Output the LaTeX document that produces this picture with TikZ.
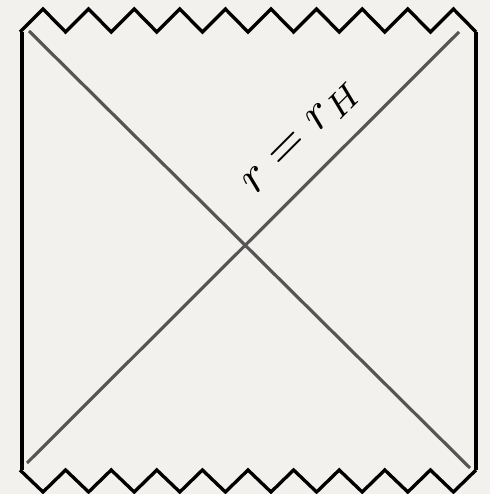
\documentclass[tikz,border=0pt]{standalone}
\usepackage{amsmath}
\definecolor{paper}{RGB}{242,241,238}
\definecolor{horizon}{RGB}{85,85,85}

\begin{document}
\begin{tikzpicture}[x=0.02cm, y=0.02cm, line join=miter]
  \fill[paper] (0,0) rectangle (490,494);
  \useasboundingbox (0,0) rectangle (490,494);

  \coordinate (BL) at (22, 24);
  \coordinate (TL) at (22,462);
  \coordinate (BR) at (476, 24);
  \coordinate (TR) at (476,462);

  % edges of the diagram
  \draw[line width=2.5pt] (BL) -- (TL);
  \draw[line width=2.5pt] (BR) -- (TR);

  % singularities
  \draw[line width=1.9pt] (20,462)
    \foreach \k in {0,...,9} { -- ({43+45.6*\k},485) -- ({65.6+45.6*\k},462) };
  \draw[line width=1.9pt] (20,24)
    \foreach \k in {0,...,9} { -- ({43+45.6*\k},2) -- ({65.6+45.6*\k},24) };

  % horizons
  \coordinate (A) at ( 29,463);
  \coordinate (B) at (470, 26);
  \coordinate (C) at ( 27, 31);
  \coordinate (D) at (459,462);
  \draw[horizon, line width=1.8pt] (A) -- (B);
  \draw[horizon, line width=1.8pt] (C) -- (D);

  \node[rotate=45, scale=2.8] (lbl) at (303,356) {$r = r_H$};
\end{tikzpicture}
\end{document}
